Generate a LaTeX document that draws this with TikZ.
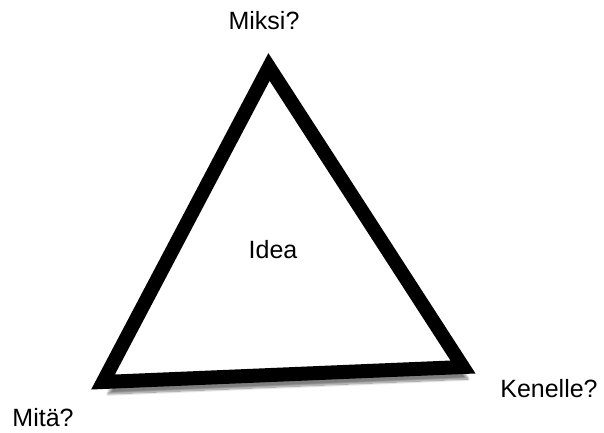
\documentclass[tikz,border=0pt]{standalone}
\usepackage{fontspec}
\setmainfont{Liberation Sans}
\usetikzlibrary{shadows.blur}
\tikzstyle{label} = [font=\fontsize{25}{30}\selectfont, inner sep=0pt]
\tikzstyle{frame} = [draw=black, fill=white, line width=14pt, line join=miter,
  blur shadow={shadow xshift=5pt, shadow yshift=-12pt, shadow opacity=50, shadow blur steps=12}]

\begin{document}
\begin{tikzpicture}[x=1pt, y=-1pt]
        \useasboundingbox (0,0) rectangle (604,432);
        % Corners
        \coordinate (top) at (269,67);
        \coordinate (left) at (103,382);
        \coordinate (right) at (463,367);

        % Triangle
        \path [frame] (top) -- (left) -- (right) -- cycle;

        % Labels
        \node [label] (miksi) at (264,21) {Miksi?};
        \node [label] (idea) at (273,250) {Idea};
        \node [label] (kenelle) at (549,389) {Kenelle?};
        \node [label] (mita) at (43,418) {Mitä?};
    \end{tikzpicture}
\end{document}
